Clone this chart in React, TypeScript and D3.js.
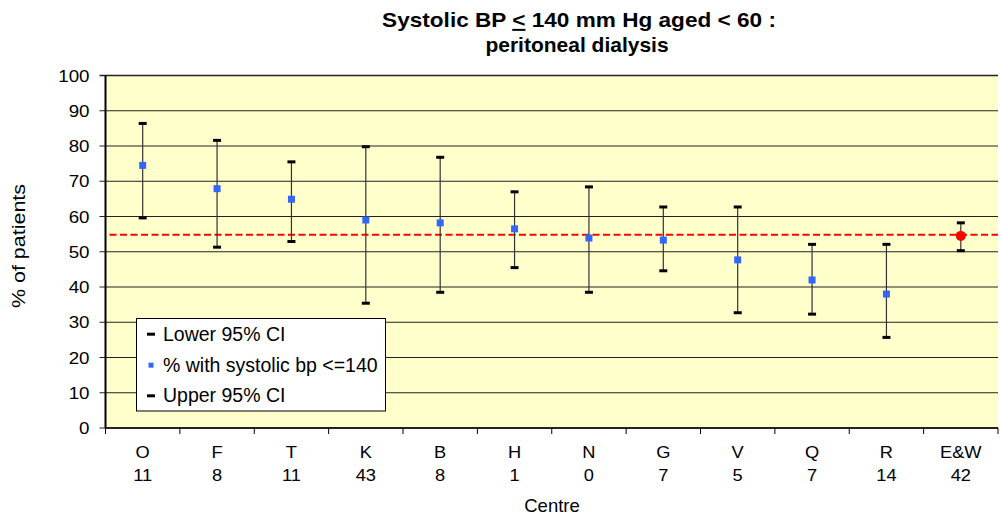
import React from "react";
import * as d3 from "d3";

const centres = ["O", "F", "T", "K", "B", "H", "N", "G", "V", "Q", "R", "E&W"];
const counts = ["11", "8", "11", "43", "8", "1", "0", "7", "5", "7", "14", "42"];
const pct = [74.5, 67.9, 64.9, 59.0, 58.2, 56.5, 53.9, 53.3, 47.7, 42.0, 38.0, 54.5];
const lower = [59.6, 51.3, 52.9, 35.4, 38.5, 45.5, 38.5, 44.6, 32.7, 32.3, 25.7, 50.3];
const upper = [86.4, 81.6, 75.5, 79.8, 76.8, 67.0, 68.4, 62.7, 62.7, 52.1, 52.1, 58.2];
const nationalAvg = 54.8;
const yTicks = [0, 10, 20, 30, 40, 50, 60, 70, 80, 90, 100];
const legendItems = ["Lower 95% CI", "% with systolic bp <=140", "Upper 95% CI"];

const W = 1000;
const H = 517;
const M = { left: 105.5, right: 998, top: 75.5, bottom: 428 };
const FONT = "'Liberation Sans', Arial, sans-serif";

function SText(props: {
  x: number;
  y: number;
  sx?: number;
  size: number;
  anchor?: string;
  weight?: string;
  rotate?: number;
  children: React.ReactNode;
}) {
  const { x, y, sx = 1, size, anchor = "start", weight = "normal", rotate = 0, children } = props;
  return (
    <text
      transform={`translate(${x},${y}) rotate(${rotate}) scale(${sx},1)`}
      fontSize={size}
      textAnchor={anchor}
      fontWeight={weight}
      fill="#000"
    >
      {children}
    </text>
  );
}

export default function App() {
  const x = d3.scaleBand<string>().domain(centres).range([M.left, M.right]);
  const y = d3.scaleLinear().domain([0, 100]).range([M.bottom, M.top]);
  const cx = (c: string) => (x(c) as number) + x.bandwidth() / 2;
  const boundaries = d3.range(centres.length + 1).map((i) => M.left + i * x.bandwidth());

  return (
    <svg width={W} height={H} style={{ position: "absolute", left: 0, top: 0, fontFamily: FONT }}>
      <rect x={0} y={0} width={W} height={H} fill="#ffffff" />
      <rect x={M.left} y={M.top} width={M.right - M.left} height={M.bottom - M.top} fill="#FFFFCC" />
      {/* gridlines */}
      {yTicks.map((t) => (
        <line key={"g" + t} x1={M.left - 6} x2={M.right} y1={y(t)} y2={y(t)} stroke="#222" strokeWidth={t === 100 ? 1.5 : 1} />
      ))}
      {/* y axis */}
      <line x1={M.left} x2={M.left} y1={M.top} y2={M.bottom} stroke="#000" strokeWidth={2} />
      {yTicks.map((t) => (
        <SText key={"yl" + t} x={89.5} y={y(t) + 6} size={16.3} sx={1.15} anchor="end">
          {t}
        </SText>
      ))}
      {/* x axis */}
      <line x1={M.left} x2={M.right} y1={M.bottom} y2={M.bottom} stroke="#000" strokeWidth={1.5} />
      {boundaries.map((b, i) => (
        <line key={"xt" + i} x1={b} x2={b} y1={M.bottom} y2={M.bottom + 6} stroke="#000" strokeWidth={1} />
      ))}
      {centres.map((c, i) => (
        <g key={"xl" + c}>
          <SText x={cx(c)} y={458.3} size={16.3} sx={1.12} anchor="middle">
            {c}
          </SText>
          <SText x={cx(c)} y={480.7} size={16.3} sx={1.12} anchor="middle">
            {counts[i]}
          </SText>
        </g>
      ))}
      {/* national average dashed line */}
      <line
        x1={M.left + 4}
        x2={M.right}
        y1={y(nationalAvg)}
        y2={y(nationalAvg)}
        stroke="#FF0000"
        strokeWidth={2}
        strokeDasharray="7,3.5"
      />
      {/* error bars */}
      {centres.map((c, i) => (
        <g key={"e" + c}>
          <line x1={cx(c)} x2={cx(c)} y1={y(upper[i])} y2={y(lower[i])} stroke="#333" strokeWidth={1.2} />
          <line x1={cx(c) - 4} x2={cx(c) + 4} y1={y(upper[i])} y2={y(upper[i])} stroke="#000" strokeWidth={3} />
          <line x1={cx(c) - 4} x2={cx(c) + 4} y1={y(lower[i])} y2={y(lower[i])} stroke="#000" strokeWidth={3} />
          {c === "E&W" ? (
            <circle cx={cx(c)} cy={y(pct[i])} r={5} fill="#FF0000" />
          ) : (
            <rect x={cx(c) - 3.5} y={y(pct[i]) - 3.5} width={7} height={7} fill="#3366FF" />
          )}
        </g>
      ))}
      {/* legend */}
      <g>
        <rect x={136.5} y={318.5} width={249} height={92.5} fill="#ffffff" stroke="#000" strokeWidth={1} />
        {legendItems.map((lab, i) => {
          const base = [340.7, 371.7, 402.3][i];
          const ly = base - 6.5;
          return (
            <g key={"lg" + i}>
              {i === 1 ? (
                <rect x={148.5} y={ly - 2.5} width={5} height={5} fill="#3366FF" />
              ) : (
                <line x1={147} x2={155} y1={ly} y2={ly} stroke="#000" strokeWidth={3} />
              )}
              <SText x={163} y={base} size={19.5}>
                {lab}
              </SText>
            </g>
          );
        })}
      </g>
      {/* titles */}
      <SText x={579} y={27} size={20} sx={1.13} anchor="middle" weight="bold">
        Systolic BP <tspan textDecoration="underline">&lt;</tspan> 140 mm Hg aged &lt; 60 :
      </SText>
      <SText x={577} y={52} size={20} sx={1.05} anchor="middle" weight="bold">
        peritoneal dialysis
      </SText>
      <SText x={552} y={512} size={18.5} anchor="middle">
        Centre
      </SText>
      <SText x={24.5} y={246} size={17.9} sx={1.2} rotate={-90} anchor="middle">
        % of patients
      </SText>
    </svg>
  );
}
